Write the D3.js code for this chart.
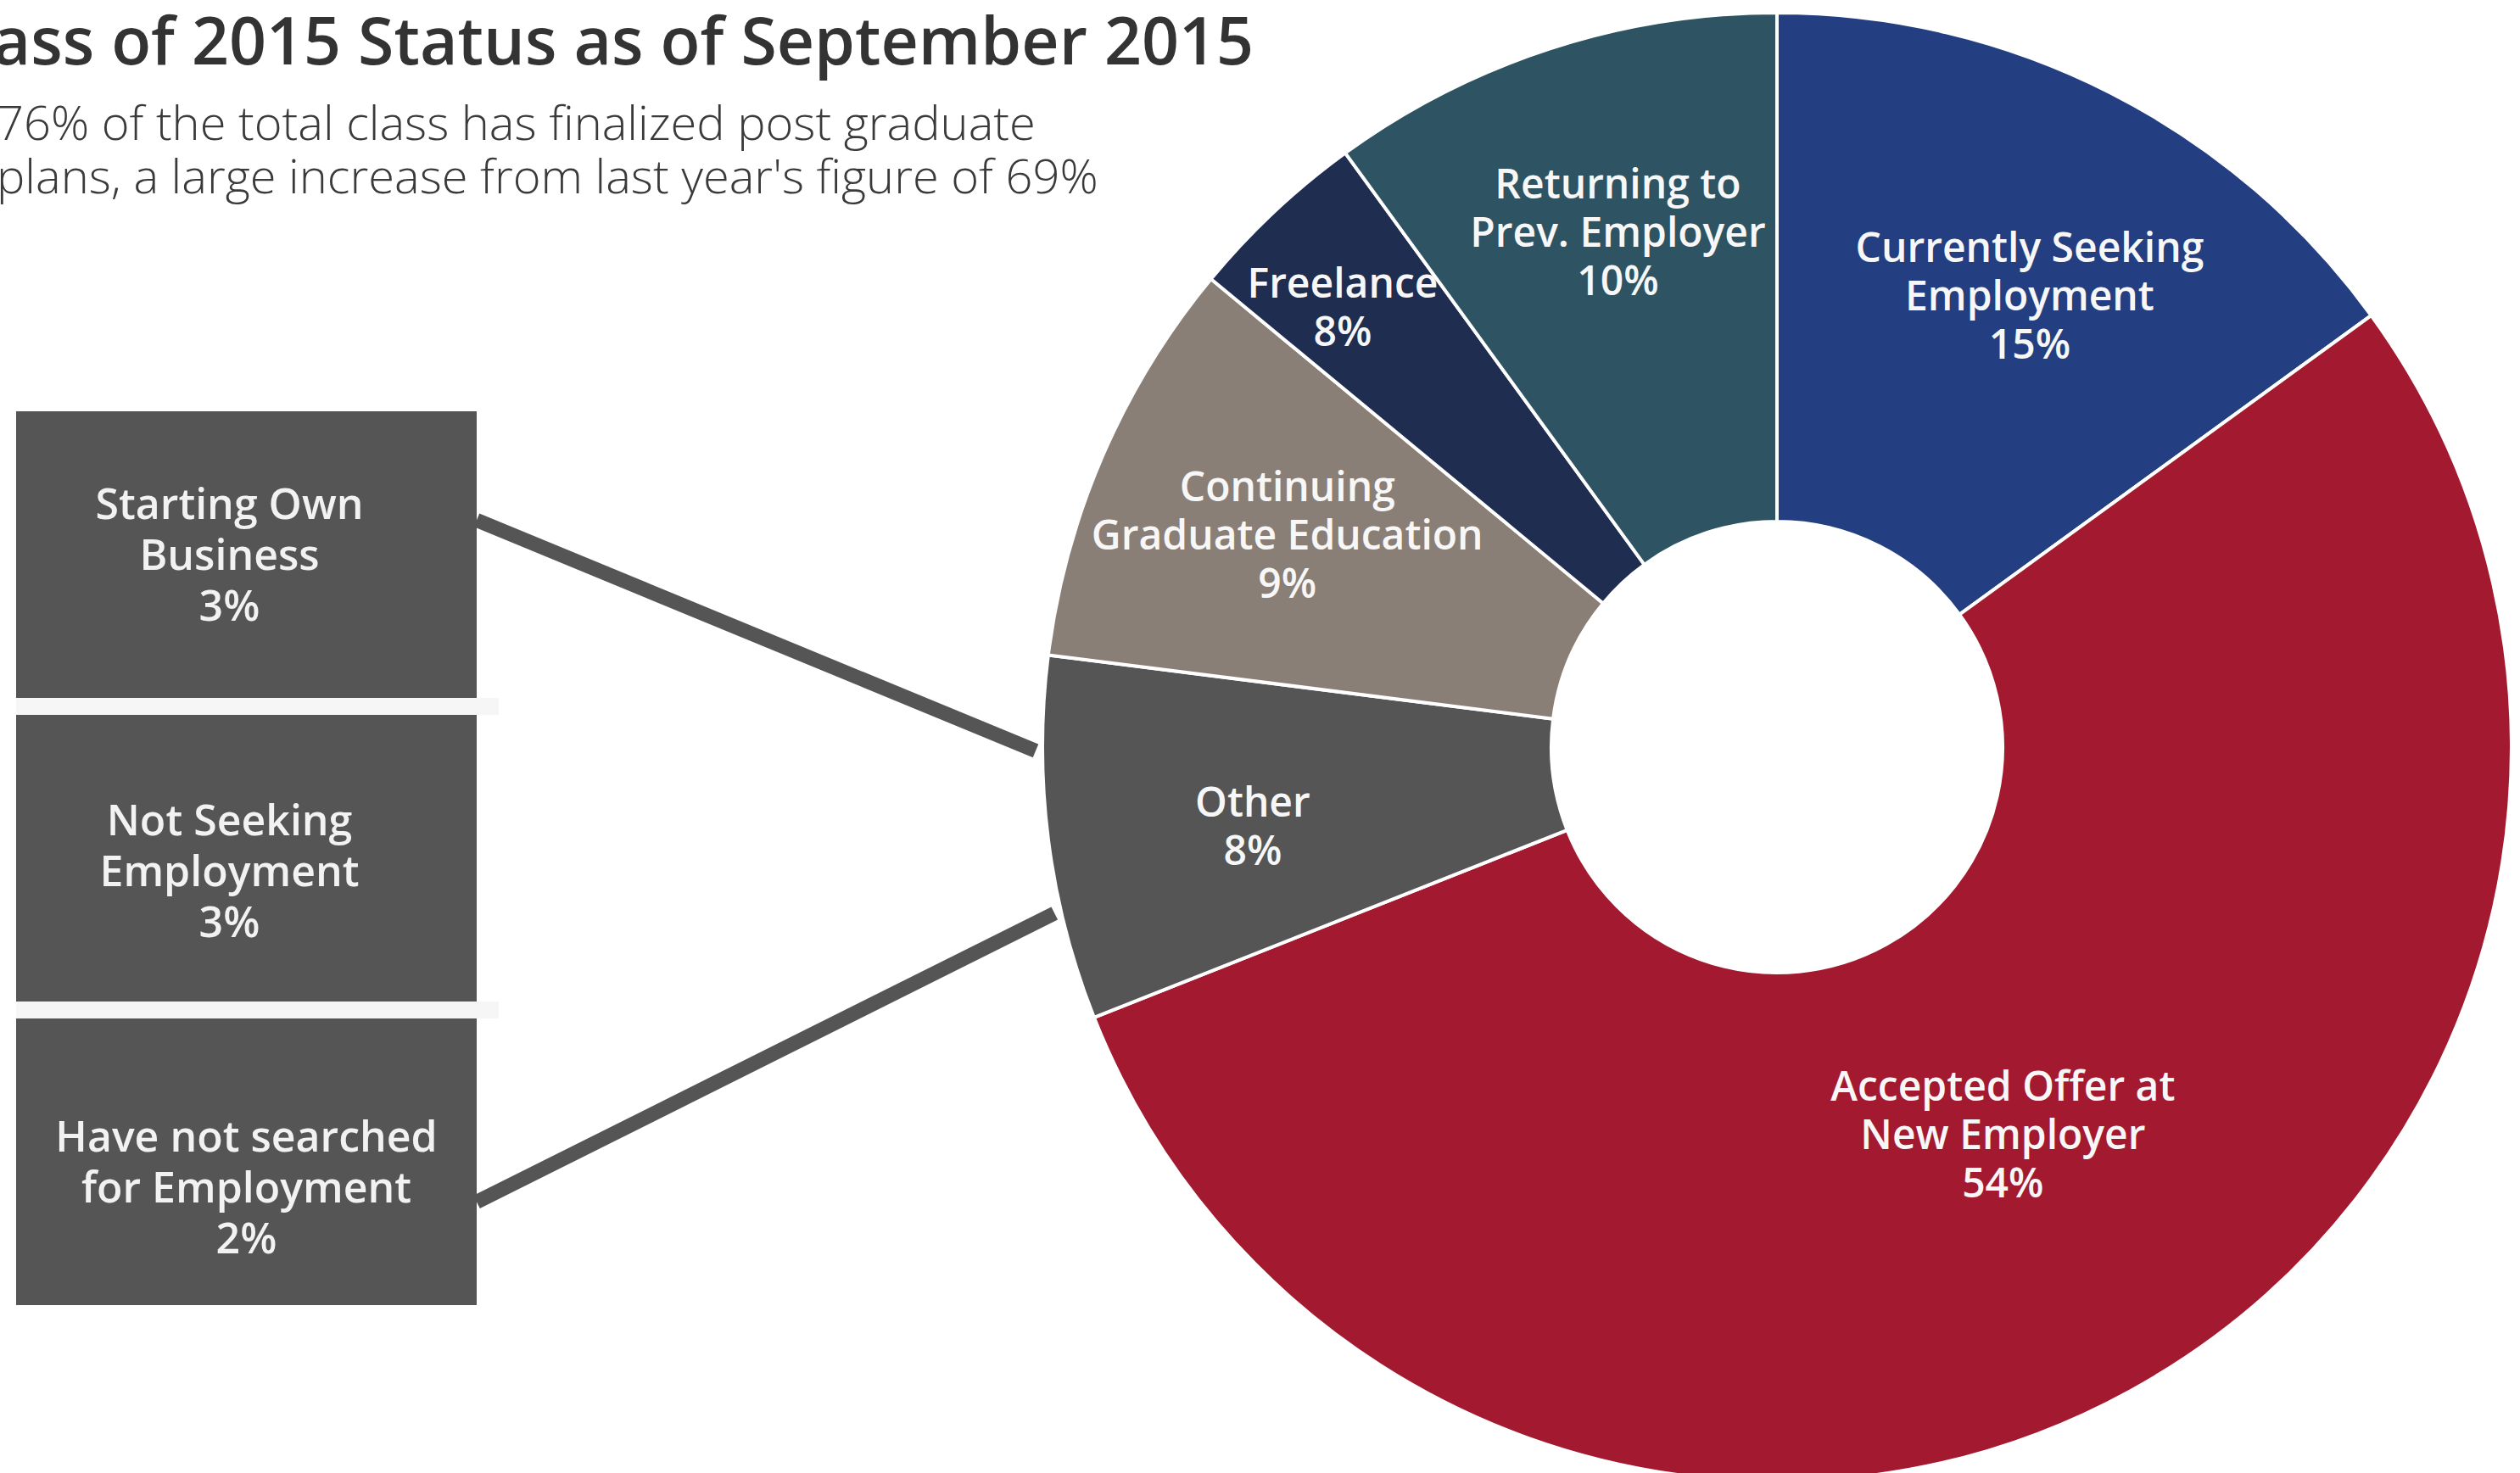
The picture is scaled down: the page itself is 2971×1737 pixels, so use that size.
<!DOCTYPE html>
<html>
<head>
<meta charset="utf-8">
<script src="https://cdn.jsdelivr.net/npm/d3@7"></script>
<style>
body { margin: 0; background: #fff; }
svg text { font-family: "Open Sans", "Noto Sans", sans-serif; }
</style>
</head>
<body>
<script>
// slices, clockwise from 12 o'clock
var categories = ['Currently Seeking\nEmployment', 'Accepted Offer at\nNew Employer', 'Other',
    'Continuing\nGraduate Education', 'Freelance', 'Returning to\nPrev. Employer']
var values = [15, 54, 8, 9, 4, 10]
// printed labels (freelance says 8% though its slice is drawn at ~4%)
var valueLabels = ['15%', '54%', '8%', '9%', '8%', '10%']
var colors = ['#233f81', '#a31a30', '#555555', '#8a7f76', '#1f2d50', '#2e5464']

// breakdown of "Other"
var otherCategories = ['Starting Own\nBusiness', 'Not Seeking\nEmployment', 'Have not searched\nfor Employment']
var otherValues = ['3%', '3%', '2%']

var width = 2971, height = 1737
var cx = 2095, cy = 881, outerR = 866, innerR = 266
// where each slice label sits: radius, then a small nudge
var labelR = [610, 530, 625, 629, 729, 636]
var labelNudge = [[21, 11], [11, -8], [2, 15], [0, 0], [-13, 13], [9, -2]]

var svg = d3.select('body').append('svg')
    .attr('width', width)
    .attr('height', height)

// title
svg.append('text')
    .attr('x', 1478)
    .attr('y', 76)
    .attr('text-anchor', 'end')
    .style('font-size', '77px')
    .style('font-weight', 600)
    .style('fill', '#333')
    .text('Class of 2015 Status as of September 2015')

var sub = svg.append('text')
    .style('font-size', '56px')
    .style('font-weight', 300)
    .style('fill', '#3a3a3a')
sub.append('tspan').attr('x', -4).attr('y', 165)
    .text('76% of the total class has finalized post graduate')
sub.append('tspan').attr('x', -4).attr('y', 228)
    .text("plans, a large increase from last year's figure of 69%")

// donut
var pie = d3.pie().sort(null).value(d => d)
var arcs = pie(values)
var arc = d3.arc().innerRadius(innerR).outerRadius(outerR)

var chart = svg.append('g')
    .attr('transform', `translate(${cx},${cy})`)

chart.selectAll('.slice')
    .data(arcs).enter()
    .append('path')
    .attr('class', 'slice')
    .attr('d', arc)
    .attr('fill', (d, i) => colors[i])
    .attr('stroke', '#fff')
    .attr('stroke-width', 4)

function multiline(sel, lines, lh) {
    var n = lines.length
    lines.forEach((l, j) => {
        sel.append('tspan')
            .attr('x', 0)
            .attr('y', (j - (n - 1) / 2) * lh)
            .attr('dy', '0.36em')
            .text(l)
    })
}

chart.selectAll('.label')
    .data(arcs).enter()
    .append('text')
    .attr('class', 'label')
    .attr('transform', (d, i) => {
        var c = d3.arc().innerRadius(labelR[i]).outerRadius(labelR[i]).centroid(d)
        return `translate(${c[0] + labelNudge[i][0]},${c[1] + labelNudge[i][1]})`
    })
    .attr('text-anchor', 'middle')
    .style('font-size', '48px')
    .style('font-weight', 600)
    .style('fill', '#f7f7f7')
    .each(function(d, i) {
        multiline(d3.select(this), categories[i].split('\n').concat(valueLabels[i]), 57)
    })

// breakdown boxes on the left
var boxX = 19, boxW = 543
var y = d3.scaleBand()
    .domain(d3.range(otherCategories.length))
    .range([485, 1539])
    .paddingInner(20 / 358)

var gap = y.step() - y.bandwidth()
svg.selectAll('.stripe')
    .data(d3.range(otherCategories.length - 1)).enter()
    .append('rect')
    .attr('class', 'stripe')
    .attr('x', boxX)
    .attr('y', i => y(i) + y.bandwidth())
    .attr('width', boxW + 26)
    .attr('height', gap)
    .attr('fill', '#f6f6f6')

var box = svg.selectAll('.box')
    .data(otherCategories).enter()
    .append('g')
    .attr('class', 'box')
    .attr('transform', (d, i) => `translate(${boxX},${y(i)})`)

box.append('rect')
    .attr('width', boxW)
    .attr('height', y.bandwidth())
    .attr('fill', '#555555')

var textDx = [-20, -20, 0], textDy = [0, 15, 30]
box.append('text')
    .attr('transform', (d, i) => `translate(${boxW / 2 + textDx[i]},${y.bandwidth() / 2 + textDy[i]})`)
    .attr('text-anchor', 'middle')
    .style('font-size', '50px')
    .style('font-weight', 600)
    .style('fill', '#f2f2f2')
    .each(function(d, i) {
        multiline(d3.select(this), d.split('\n').concat(otherValues[i]), 60)
    })

// connectors from the boxes to the "Other" slice
var other = arcs[2]
var links = [
    {box: 0, at: 0.38, t: 0.74},
    {box: 2, at: 0.64, t: 0.30}
]
function tip(d) {
    var p = d3.pointRadial(other.startAngle + d.t * (other.endAngle - other.startAngle), outerR + 8)
    return [cx + p[0], cy + p[1]]
}
svg.selectAll('.link')
    .data(links).enter()
    .append('line')
    .attr('class', 'link')
    .attr('x1', boxX + boxW)
    .attr('y1', d => y(d.box) + y.bandwidth() * d.at)
    .attr('x2', d => tip(d)[0])
    .attr('y2', d => tip(d)[1])
    .attr('stroke', '#555555')
    .attr('stroke-width', 17)
</script>
</body>
</html>
